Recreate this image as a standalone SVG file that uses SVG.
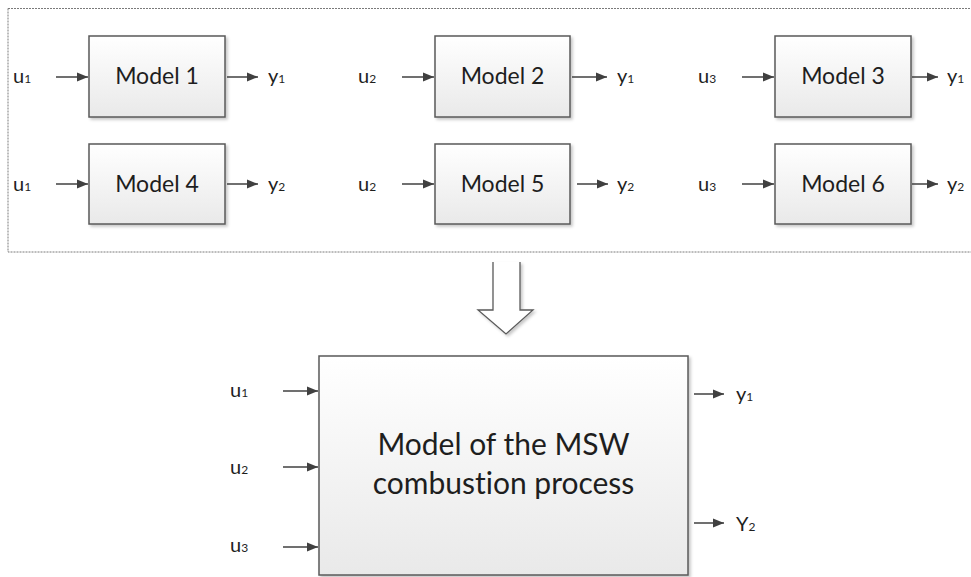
<svg xmlns="http://www.w3.org/2000/svg" width="971" height="577" viewBox="0 0 971 577">
<defs>
<linearGradient id="g" x1="0" y1="0" x2="0" y2="1">
<stop offset="0" stop-color="#ffffff"/>
<stop offset="1" stop-color="#e9e9e9"/>
</linearGradient>
<filter id="sh" x="-10%" y="-10%" width="130%" height="130%">
<feDropShadow dx="2" dy="2" stdDeviation="1.5" flood-color="#000" flood-opacity="0.22"/>
</filter>
<marker id="ah" markerUnits="userSpaceOnUse" markerWidth="12" markerHeight="10" refX="11" refY="5" orient="auto">
<path d="M0,0.5 L11,5 L0,9.5 z" fill="#404040"/>
</marker>
</defs>
<style>
.box{fill:url(#g);stroke:#5a5a5a;stroke-width:1.5;filter:url(#sh)}
.t{font-family:Lato,"Liberation Sans",sans-serif;fill:#1e1e1e;font-variant-ligatures:none}
.m{font-size:23px;text-anchor:middle}
.l{font-size:20px}
.s{font-size:12px}
.big{font-size:30px;text-anchor:middle}
.c line{stroke:#404040;stroke-width:1.5;marker-end:url(#ah)}
</style>
<rect x="8" y="8.5" width="980" height="243.5" fill="none" stroke="#7a7a7a" stroke-width="1" stroke-dasharray="2 1"/>

<g id="model1"><rect class="box" x="89" y="36" width="136" height="81"/><text class="t m" x="157" y="84">Model 1</text></g>
<g id="model2"><rect class="box" x="435" y="36" width="135" height="81"/><text class="t m" x="502.5" y="84">Model 2</text></g>
<g id="model3"><rect class="box" x="775" y="36" width="136" height="81"/><text class="t m" x="843" y="84">Model 3</text></g>
<g id="model4"><rect class="box" x="89" y="144" width="136" height="80"/><text class="t m" x="157" y="192">Model 4</text></g>
<g id="model5"><rect class="box" x="435" y="144" width="135" height="80"/><text class="t m" x="502.5" y="192">Model 5</text></g>
<g id="model6"><rect class="box" x="775" y="144" width="136" height="80"/><text class="t m" x="843" y="192">Model 6</text></g>

<g id="big-arrow"><polyline points="493,262 493,310 478,310 506,334 533,310 520,310 520,262" fill="#fff" stroke="#5a5a5a" stroke-width="1.3" filter="url(#sh)"/></g>

<g id="msw-model"><rect class="box" x="319" y="356" width="369" height="219"/>
<text class="t big" x="503.5" y="455">Model of the MSW</text>
<text class="t big" x="503.5" y="494">combustion process</text></g>

<g id="labels">
<text class="t l" x="13" y="83">u<tspan class="s">1</tspan></text>
<text class="t l" x="13" y="191">u<tspan class="s">1</tspan></text>
<text class="t l" x="358" y="83">u<tspan class="s">2</tspan></text>
<text class="t l" x="358" y="191">u<tspan class="s">2</tspan></text>
<text class="t l" x="698" y="83">u<tspan class="s">3</tspan></text>
<text class="t l" x="698" y="191">u<tspan class="s">3</tspan></text>
<text class="t l" x="268" y="83">y<tspan class="s">1</tspan></text>
<text class="t l" x="268" y="191">y<tspan class="s">2</tspan></text>
<text class="t l" x="617" y="83">y<tspan class="s">1</tspan></text>
<text class="t l" x="617" y="191">y<tspan class="s">2</tspan></text>
<text class="t l" x="947" y="83">y<tspan class="s">1</tspan></text>
<text class="t l" x="947" y="191">y<tspan class="s">2</tspan></text>
<text class="t l" x="230" y="397">u<tspan class="s">1</tspan></text>
<text class="t l" x="230" y="474">u<tspan class="s">2</tspan></text>
<text class="t l" x="230" y="552">u<tspan class="s">3</tspan></text>
<text class="t l" x="736" y="401">y<tspan class="s">1</tspan></text>
<text class="t l" x="736" y="531">Y<tspan class="s">2</tspan></text>
</g>

<g id="connectors" class="c">
<line x1="56" y1="77" x2="88" y2="77"/>
<line x1="56" y1="184" x2="88" y2="184"/>
<line x1="227" y1="77" x2="258" y2="77"/>
<line x1="227" y1="184" x2="258" y2="184"/>
<line x1="402" y1="77" x2="434" y2="77"/>
<line x1="402" y1="184" x2="434" y2="184"/>
<line x1="572" y1="77" x2="607" y2="77"/>
<line x1="577" y1="184" x2="608" y2="184"/>
<line x1="742" y1="77" x2="774" y2="77"/>
<line x1="742" y1="184" x2="774" y2="184"/>
<line x1="912" y1="77" x2="938" y2="77"/>
<line x1="912" y1="184" x2="938" y2="184"/>
<line x1="283" y1="391" x2="318" y2="391"/>
<line x1="283" y1="467" x2="318" y2="467"/>
<line x1="283" y1="547" x2="318" y2="547"/>
<line x1="694" y1="394" x2="724" y2="394"/>
<line x1="694" y1="523" x2="724" y2="523"/>
</g>
</svg>
